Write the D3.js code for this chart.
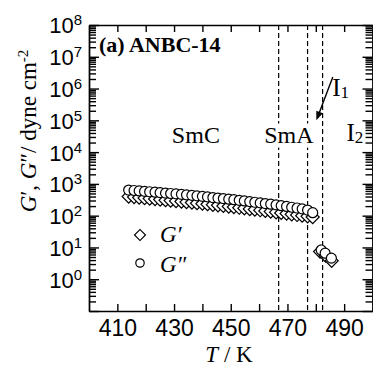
<!DOCTYPE html>
<html>
<head>
<meta charset="utf-8">
<script src="https://cdn.jsdelivr.net/npm/d3@7"></script>
<style>
    body { margin: 0; background: #fff; }
    svg { font-family: "Liberation Serif", "Times New Roman", serif; display: block; }
</style>
</head>
<body>
<svg width="373" height="366"></svg>
<script>
    // smectic phases, T in K
    const temps = [414.0, 415.9, 417.7, 419.6, 421.4, 423.3, 425.1, 427.0, 428.8, 430.7,
        432.6, 434.4, 436.3, 438.1, 440.0, 441.8, 443.7, 445.5, 447.4, 449.3,
        451.1, 453.0, 454.8, 456.7, 458.5, 460.4, 462.2, 464.1, 466.0, 467.8,
        469.7, 471.5, 473.4, 475.2, 477.1, 478.9];
    // G'' (circles)
    const gLoss = [640, 620, 600, 580, 565, 548, 530, 512, 498, 484,
        468, 452, 436, 420, 405, 390, 372, 358, 345, 330,
        318, 304, 290, 277, 264, 252, 241, 230, 218, 206,
        195, 184, 174, 164, 150, 124];
    // G' (diamonds)
    const gStore = [400, 385, 370, 357, 345, 333, 320, 308, 298, 288,
        278, 268, 258, 248, 239, 230, 220, 211, 203, 194,
        186, 178, 170, 162, 155, 148, 141, 135, 128, 122,
        116, 110, 105, 100, 95, 90];

    // isotropic phase points
    const isoTempsLoss = [481.9, 483.3, 485.5];
    const isoLoss = [8.3, 6.6, 4.6];
    const isoTempsStore = [481.5, 483.5, 485.6];
    const isoStore = [7.4, 5.5, 3.8];

    const transitions = [466.9, 477.1, 482.4];

    const xTicks = [410, 420, 430, 440, 450, 460, 470, 480, 490];
    const xLabels = [410, 430, 450, 470, 490];
    const yExps = [0, 1, 2, 3, 4, 5, 6, 7, 8];

    const svg = d3.select("svg");
    const x = d3.scaleLinear().domain([400, 500]).range([89, 372.5]);
    const y = d3.scaleLog().domain([1e-1, 1e8]).range([311, 25]);

    const majors = d3.range(-1, 9).map(e => Math.pow(10, e));
    const minors = [];
    for (let e = -1; e < 8; e++) {
        for (let m = 2; m <= 9; m++) minors.push(m * Math.pow(10, e));
    }

    // dashed transition lines
    svg.selectAll("line.tr")
        .data(transitions)
        .enter().append("line")
        .attr("class", "tr")
        .attr("x1", d => x(d)).attr("x2", d => x(d))
        .attr("y1", y(1e8)).attr("y2", y(1e-1))
        .attr("stroke", "#000").attr("stroke-width", 1.2)
        .attr("stroke-dasharray", "5,3");

    // axes
    const styleAxis = g => {
        g.select(".domain").attr("stroke", "#000").attr("stroke-width", 1.4);
        g.selectAll(".tick line").attr("stroke", "#000").attr("stroke-width", 1.4);
    };

    svg.append("g").attr("transform", "translate(0,311)")
        .call(d3.axisBottom(x).tickValues(xTicks).tickSize(-7).tickSizeOuter(0).tickPadding(9)
            .tickFormat(d => xLabels.includes(d) ? d : ""))
        .call(styleAxis)
        .call(g => g.selectAll("text").attr("font-size", "23px").attr("font-family", null).attr("fill", "#000"));

    svg.append("g").attr("transform", "translate(0,25)")
        .call(d3.axisTop(x).tickValues(xTicks).tickSize(-7).tickSizeOuter(0).tickFormat(""))
        .call(styleAxis);

    svg.append("g").attr("transform", "translate(89,0)")
        .call(d3.axisLeft(y).tickValues(minors).tickSize(-7).tickSizeOuter(0).tickFormat(""))
        .call(styleAxis);
    const left = svg.append("g").attr("transform", "translate(89,0)")
        .call(d3.axisLeft(y).tickValues(majors).tickSize(-10).tickSizeOuter(0).tickPadding(7)
            .tickFormat(""))
        .call(styleAxis);

    left.selectAll(".tick")
        .filter(d => yExps.includes(Math.round(Math.log10(d))))
        .select("text")
        .attr("font-size", "22px").attr("font-family", null).attr("fill", "#000")
        .attr("dy", "0.36em")
        .text("10")
        .append("tspan")
        .attr("font-size", "15px")
        .attr("dy", "-8px")
        .text(d => Math.round(Math.log10(d)));

    svg.append("g").attr("transform", "translate(372.5,0)")
        .call(d3.axisRight(y).tickValues(minors).tickSize(-7).tickSizeOuter(0).tickFormat(""))
        .call(styleAxis);
    svg.append("g").attr("transform", "translate(372.5,0)")
        .call(d3.axisRight(y).tickValues(majors).tickSize(-10).tickSizeOuter(0).tickFormat(""))
        .call(styleAxis);

    // data
    const diamond = d3.symbol().type(d3.symbolSquare).size(85);
    const diamondSmall = d3.symbol().type(d3.symbolSquare).size(60);

    const storePts = temps.map((t, i) => [t, gStore[i]])
        .concat(isoTempsStore.map((t, i) => [t, isoStore[i]]));
    const lossPts = temps.map((t, i) => [t, gLoss[i]])
        .concat(isoTempsLoss.map((t, i) => [t, isoLoss[i]]));

    svg.append("g").selectAll("path")
        .data(storePts)
        .enter().append("path")
        .attr("d", diamond)
        .attr("transform", d => `translate(${x(d[0])},${y(d[1])}) rotate(45)`)
        .attr("fill", "#fff").attr("stroke", "#000").attr("stroke-width", 1.2);

    svg.append("g").selectAll("circle")
        .data(lossPts)
        .enter().append("circle")
        .attr("cx", d => x(d[0])).attr("cy", d => y(d[1]))
        .attr("r", 5)
        .attr("fill", "#fff").attr("stroke", "#000").attr("stroke-width", 1.2);

    // legend
    svg.append("path").attr("d", diamondSmall)
        .attr("transform", "translate(140,235) rotate(45)")
        .attr("fill", "#fff").attr("stroke", "#000").attr("stroke-width", 1.2);
    svg.append("circle").attr("cx", 140).attr("cy", 263).attr("r", 4.2)
        .attr("fill", "#fff").attr("stroke", "#000").attr("stroke-width", 1.2);
    svg.append("text").attr("x", 160).attr("y", 242).attr("font-size", "23px")
        .attr("font-style", "italic").text("G\u2032");
    svg.append("text").attr("x", 160).attr("y", 272).attr("font-size", "23px")
        .attr("font-style", "italic").text("G\u2033");

    // phase labels
    const label = (t, v, txt, size, anchor) => {
        const el = svg.append("text").attr("x", x(t)).attr("y", y(v))
            .attr("font-size", size).attr("text-anchor", anchor || "middle").text(txt);
        return el;
    };
    label(437.7, 2e4, "SmC", "24px");
    const smA = label(470.5, 2e4, "SmA", "24px");
    const bb = smA.node().getBBox();
    svg.insert("rect", () => smA.node())
        .attr("x", bb.x - 1).attr("y", bb.y + 2).attr("width", bb.width + 2).attr("height", bb.height - 2)
        .attr("fill", "#fff");

    const i1 = label(485.8, 6e5, "I", "25px", "start");
    i1.append("tspan").attr("font-size", "17px").attr("dy", "2px").text("1");
    const i2 = label(490.8, 2.3e4, "I", "25px", "start");
    i2.append("tspan").attr("font-size", "17px").attr("dy", "2px").text("2");

    // arrow to I1
    const ax0 = x(486.0), ay0 = y(2.3e6), ax1 = x(480.2), ay1 = y(1e5);
    const ang = Math.atan2(ay1 - ay0, ax1 - ax0);
    svg.append("line")
        .attr("x1", ax0).attr("y1", ay0)
        .attr("x2", ax1 - 6 * Math.cos(ang)).attr("y2", ay1 - 6 * Math.sin(ang))
        .attr("stroke", "#000").attr("stroke-width", 1.4);
    svg.append("path")
        .attr("d", `M0,0 L-9,-3.5 L-9,3.5 Z`)
        .attr("transform", `translate(${ax1},${ay1}) rotate(${ang * 180 / Math.PI})`)
        .attr("fill", "#000");

    // title
    svg.append("text").attr("x", 99).attr("y", 52)
        .attr("font-size", "22px").attr("font-weight", "bold").text("(a) ANBC-14");

    // axis titles
    const xt = svg.append("text").attr("x", 229).attr("y", 362)
        .attr("font-size", "23px").attr("text-anchor", "middle");
    xt.append("tspan").attr("font-style", "italic").text("T");
    xt.append("tspan").text(" / K");

    const yt = svg.append("text")
        .attr("transform", "translate(36,131) rotate(-90)")
        .attr("font-size", "23px").attr("text-anchor", "middle");
    yt.append("tspan").attr("font-style", "italic").text("G");
    yt.append("tspan").text("\u2032, ");
    yt.append("tspan").attr("font-style", "italic").text("G");
    yt.append("tspan").text("\u2033/ dyne cm");
    yt.append("tspan").attr("font-size", "15px").attr("dy", "-8px").text("-2");
</script>
</body>
</html>
